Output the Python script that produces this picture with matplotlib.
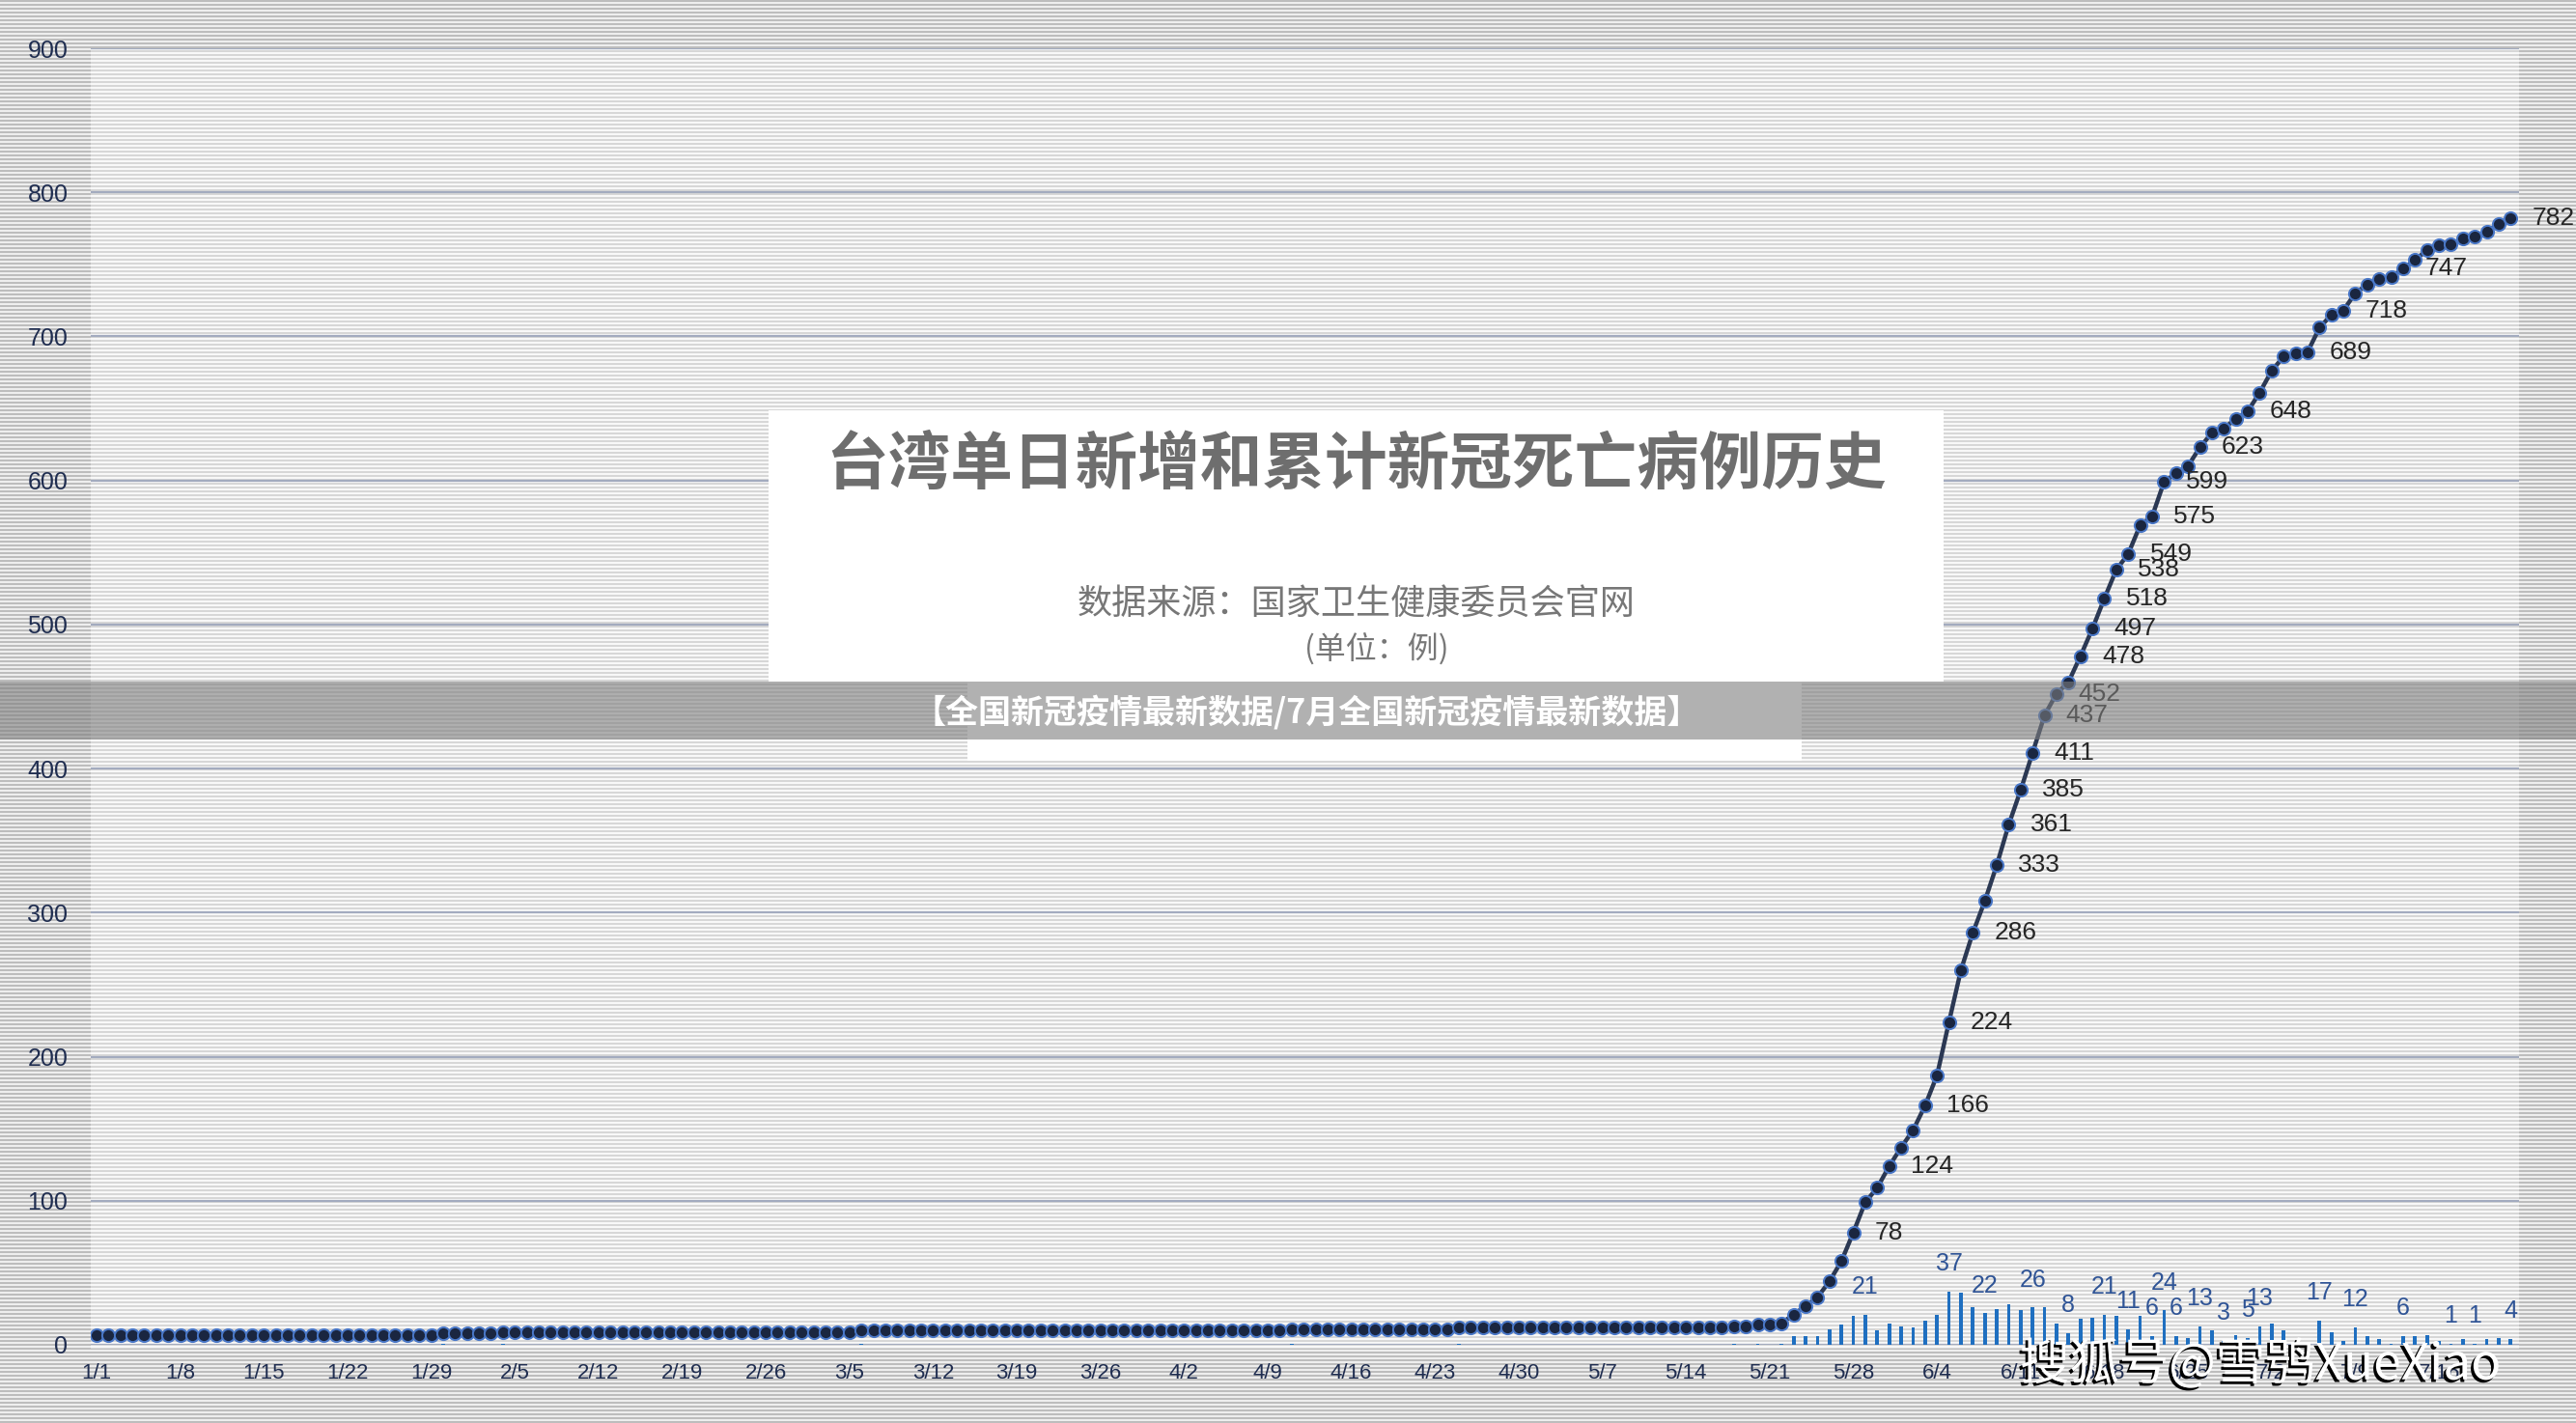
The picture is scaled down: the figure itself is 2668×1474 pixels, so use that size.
import numpy as np
import pandas as pd
import matplotlib
matplotlib.use('Agg')
import matplotlib.pyplot as plt
import matplotlib.patches as mpatches
import matplotlib.patheffects as pe

plt.rcParams['font.family'] = ['Liberation Sans Narrow', 'Liberation Sans', 'DejaVu Sans']
CJK = ['Noto Sans CJK SC', 'DejaVu Sans']

# cumulative deaths, one row per week starting 1/1
cum_deaths = [
    7, 7, 7, 7, 7, 7, 7,
    7, 7, 7, 7, 7, 7, 7,
    7, 7, 7, 7, 7, 7, 7,
    7, 7, 7, 7, 7, 7, 7,
    7, 8, 8, 8, 8, 8, 9,
    9, 9, 9, 9, 9, 9, 9,
    9, 9, 9, 9, 9, 9, 9,
    9, 9, 9, 9, 9, 9, 9,
    9, 9, 9, 9, 9, 9, 9,
    9, 10, 10, 10, 10, 10, 10,
    10, 10, 10, 10, 10, 10, 10,
    10, 10, 10, 10, 10, 10, 10,
    10, 10, 10, 10, 10, 10, 10,
    10, 10, 10, 10, 10, 10, 10,
    10, 10, 11, 11, 11, 11, 11,
    11, 11, 11, 11, 11, 11, 11,
    11, 11, 12, 12, 12, 12, 12,
    12, 12, 12, 12, 12, 12, 12,
    12, 12, 12, 12, 12, 12, 12,
    12, 12, 12, 12, 13, 13, 14,
    14, 15, 21, 27, 33, 44, 58,
    78, 99, 109, 124, 137, 149, 166,
    187, 224, 260, 286, 308, 333, 361,
    385, 411, 437, 452, 460, 478, 497,
    518, 538, 549, 569, 575, 599, 605,
    610, 623, 633, 636, 643, 648, 661,
    676, 686, 688, 689, 706, 715, 718,
    730, 736, 740, 741, 747, 753, 760,
    763, 764, 768, 769, 773, 778, 782,
]

# daily new deaths, same layout
new_deaths = [
    0, 0, 0, 0, 0, 0, 0,
    0, 0, 0, 0, 0, 0, 0,
    0, 0, 0, 0, 0, 0, 0,
    0, 0, 0, 0, 0, 0, 0,
    0, 1, 0, 0, 0, 0, 1,
    0, 0, 0, 0, 0, 0, 0,
    0, 0, 0, 0, 0, 0, 0,
    0, 0, 0, 0, 0, 0, 0,
    0, 0, 0, 0, 0, 0, 0,
    0, 1, 0, 0, 0, 0, 0,
    0, 0, 0, 0, 0, 0, 0,
    0, 0, 0, 0, 0, 0, 0,
    0, 0, 0, 0, 0, 0, 0,
    0, 0, 0, 0, 0, 0, 0,
    0, 0, 1, 0, 0, 0, 0,
    0, 0, 0, 0, 0, 0, 0,
    0, 0, 1, 0, 0, 0, 0,
    0, 0, 0, 0, 0, 0, 0,
    0, 0, 0, 0, 0, 0, 0,
    0, 0, 0, 0, 1, 0, 1,
    0, 1, 6, 6, 6, 11, 14,
    20, 21, 10, 15, 13, 12, 17,
    21, 37, 36, 26, 22, 25, 28,
    24, 26, 26, 15, 8, 18, 19,
    21, 20, 11, 20, 6, 24, 6,
    5, 13, 10, 3, 7, 5, 13,
    15, 10, 2, 1, 17, 9, 3,
    12, 6, 4, 1, 6, 6, 7,
    3, 1, 4, 1, 4, 5, 4,
]

dates = [f'{d.month}/{d.day}' for d in pd.date_range('2021-01-01', periods=len(cum_deaths))]

cum_labeled = ['5/28', '5/31', '6/3', '6/5', '6/7', '6/9', '6/10', '6/11', '6/12', '6/13',
               '6/14', '6/16', '6/17', '6/18', '6/19', '6/20', '6/22', '6/23', '6/26',
               '6/30', '7/5', '7/8', '7/13', '7/22']
new_labeled = ['5/29', '6/5', '6/8', '6/12', '6/15', '6/18', '6/20', '6/22', '6/23', '6/24',
               '6/26', '6/28', '6/30', '7/1', '7/6', '7/9', '7/13', '7/17', '7/19', '7/22']

title = '台湾单日新增和累计新冠死亡病例历史'
subtitle = '数据来源：国家卫生健康委员会官网'
unit = '(单位：例)'
banner = '【全国新冠疫情最新数据/7月全国新冠疫情最新数据】'
watermark = '搜狐号@雪鸮XueXiao'

W, H = 2668, 1474
fig = plt.figure(figsize=(W / 100, H / 100), dpi=100)

# striped backdrop, lighter inside the plot area
rows = (np.arange(H) % 4) < 2
bg = np.where(rows[:, None], 0.74, 0.93) * np.ones((1, W))
inner = np.where(rows, 0.84, 0.97)
bg[50:1397, 94:2609] = inner[50:1397, None]
fig.figimage(bg, xo=0, yo=0, origin='upper', cmap='gray', vmin=0, vmax=1, zorder=-10)

ax = fig.add_axes([94 / W, (H - 1393) / H, (2609 - 94) / W, (1393 - 50) / H])
ax.set_facecolor('none')
x = np.arange(len(cum_deaths))

ax.bar(x, new_deaths, width=0.3, color='#1f6fc0', zorder=3)
ax.plot(x, cum_deaths, color='#2b3853', lw=3.2, marker='o', markersize=9.5,
        markerfacecolor='#1a2640', markeredgecolor='#4a78c8', markeredgewidth=1.4, zorder=4)

for d in cum_labeled:
    i = dates.index(d)
    ax.annotate(str(cum_deaths[i]), (i, cum_deaths[i]), xytext=(16, 0), textcoords='offset points',
                ha='left', va='center', fontsize=19, color='#262626', zorder=5)
for d in new_labeled:
    i = dates.index(d)
    ax.annotate(str(new_deaths[i]), (i, new_deaths[i]), xytext=(0, 12), textcoords='offset points',
                ha='center', va='bottom', fontsize=18, color='#2f5496', zorder=5)

ax.set_xlim(-0.48, 202.7)
ax.set_ylim(0, 900)
ax.set_yticks(range(0, 901, 100))
ax.set_xticks(x[::7])
ax.set_xticklabels(dates[::7])
ax.tick_params(axis='y', length=0, pad=17, labelsize=18, labelcolor='#1f2d50')
ax.tick_params(axis='x', length=0, pad=14, labelsize=16, labelcolor='#1f2d50')
ax.grid(axis='y', color='#a3abbf', lw=1.6, zorder=1)
ax.set_axisbelow(True)
for s in ax.spines.values():
    s.set_visible(False)

# title box
fig.patches.append(mpatches.Rectangle((796 / W, (H - 706) / H), (2013 - 796) / W, (706 - 425) / H,
                                      transform=fig.transFigure, facecolor='white', edgecolor='none', zorder=5))
fig.patches.append(mpatches.Rectangle((1002 / W, (H - 788) / H), (1866 - 1002) / W, (788 - 706) / H,
                                      transform=fig.transFigure, facecolor='white', edgecolor='none', zorder=5))
fig.text(1405 / W, 1 - 482 / H, title, ha='center', va='center', fontsize=46.5, color='#6e6e6e',
         family=CJK, weight='bold', zorder=6)
fig.text(1405 / W, 1 - 626 / H, subtitle, ha='center', va='center', fontsize=26, color='#777777',
         family=CJK, zorder=6)
fig.text(1426 / W, 1 - 672 / H, unit, ha='center', va='center', fontsize=23, color='#777777',
         family=CJK, zorder=6)

# grey banner across the picture
fig.patches.append(mpatches.Rectangle((0, (H - 766) / H), 1, 60 / H, transform=fig.transFigure,
                                      facecolor='#7e7e7e', alpha=0.6, edgecolor='none', zorder=7))
fig.text(1353 / W, 1 - 738 / H, banner, ha='center', va='center', fontsize=24.5, color='white',
         family=CJK, weight='heavy', zorder=8)

fig.text(2341 / W, 1 - 1414 / H, watermark, ha='center', va='center', fontsize=37, color='white',
         family=CJK, zorder=8,
         path_effects=[pe.SimplePatchShadow(offset=(-2, -2), shadow_rgbFace='black', alpha=1), pe.Normal()])

fig.savefig('out.png', dpi=100)
